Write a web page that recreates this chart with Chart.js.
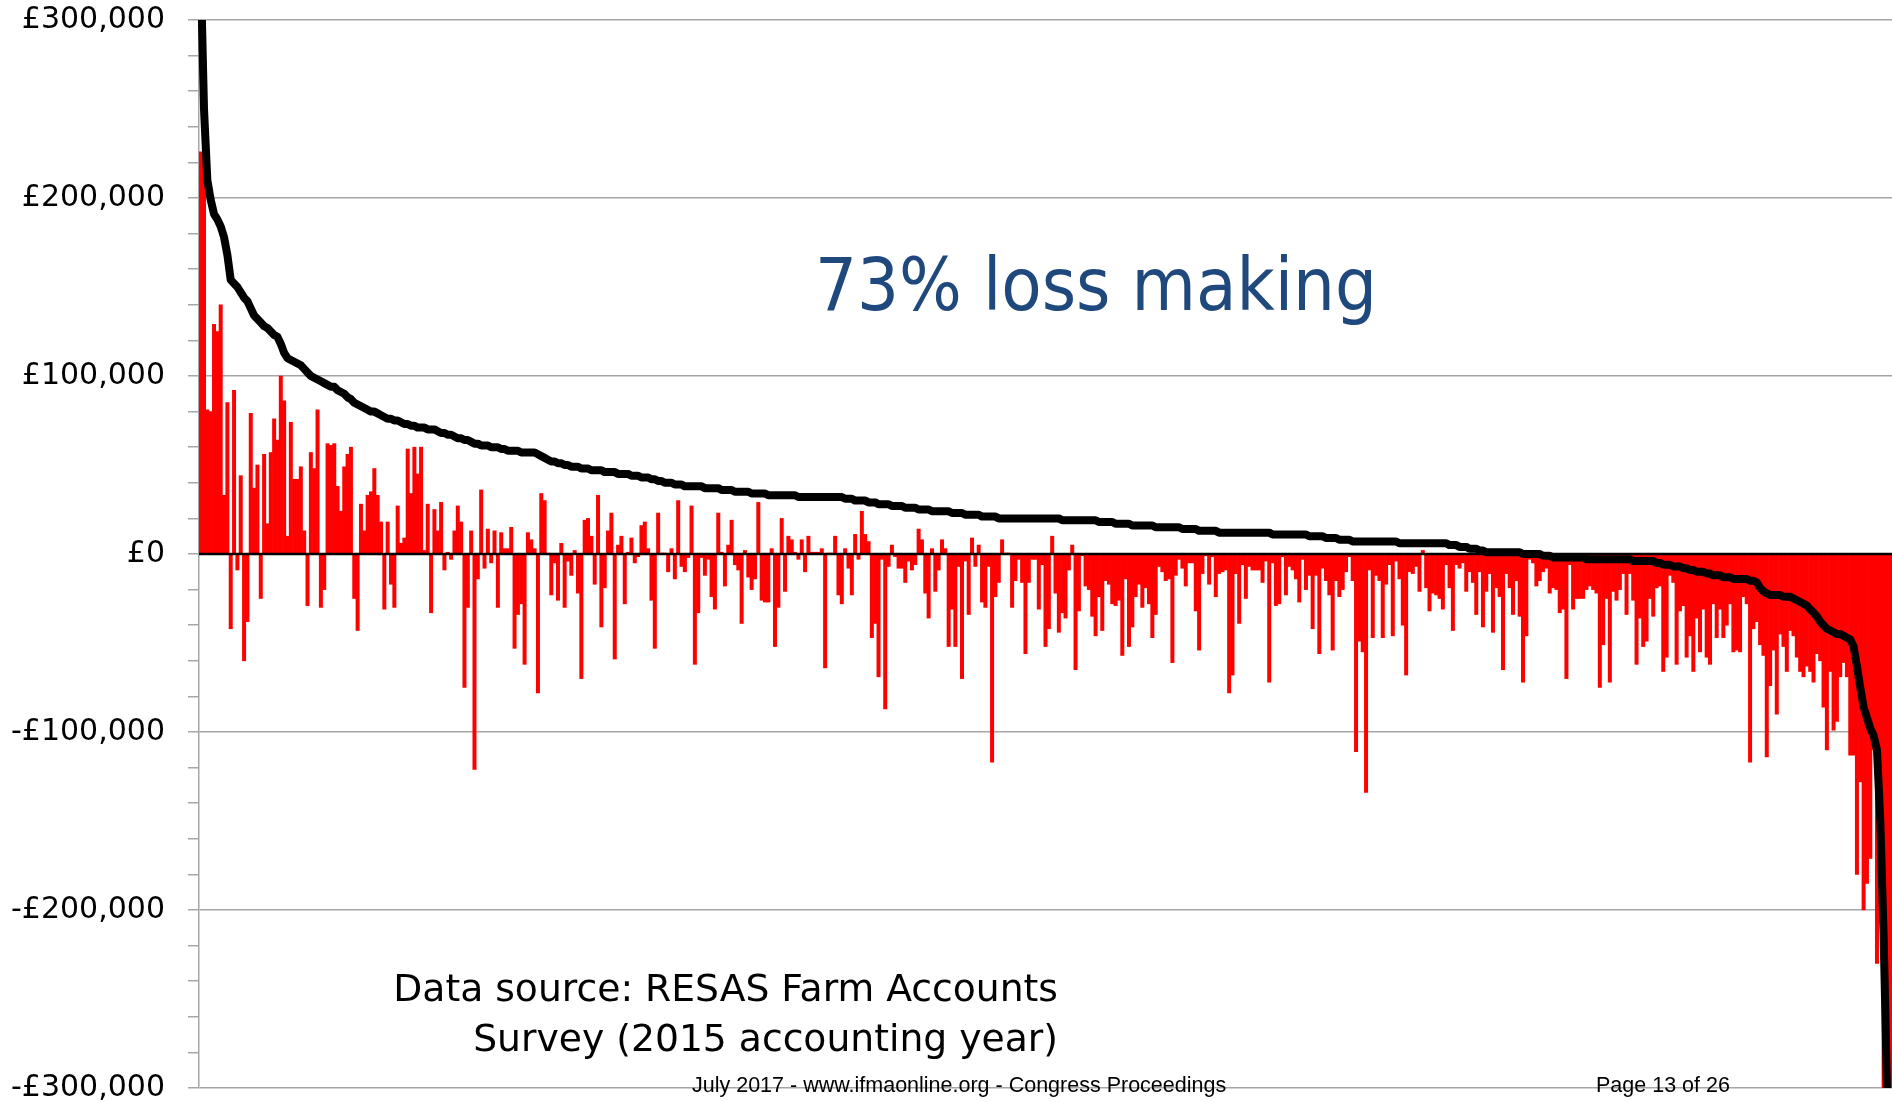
<!DOCTYPE html>
<html>
<head>
<meta charset="utf-8">
<title>73% loss making</title>
<script src="https://cdn.jsdelivr.net/npm/chart.js@4.4.1/dist/chart.umd.min.js"></script>
<style>
  html, body { margin: 0; padding: 0; background: #fff; }
  #wrap { position: relative; width: 1892px; height: 1102px; }
</style>
</head>
<body>
<div id="wrap"><canvas id="chart"></canvas></div>
<script>
// All values in £ thousands, one entry per farm.
// Farms are ordered by the black line, highest first.

// red bars
const barValues = [
  // farms 1-85
  226,224,81,80,129,125,140,33,85,-42,
  92,-9,44,-60,-38,79,37,50,-25,56,
  17,57,76,64,100,86,10,74,42,42,
  49,13,-29,57,48,81,-30,-20,62,61,
  62,38,24,49,56,60,-25,-43,28,13,
  33,35,48,33,18,-31,18,-17,-30,27,
  6,9,59,34,60,45,60,2,28,-33,
  25,13,29,-9,1,-3,13,27,18,-75,
  -30,13,-121,-14,36,
  // farms 86-168
  -8,14,-5,13,-30,12,3,3,15,-53,
  -34,-28,-62,12,8,3,-78,34,30,0.5,
  -23,-5,-26,6,-30,-4,-12,2,-22,-70,
  19,20,10,-17,33,-41,-19,13,23,-59,
  5,10,-28,1,9,-5,-1.5,16,18,3,
  -26,-53,23,0.5,0.5,-10,3,-14,30,-7,
  -10,-2,27,-62,-33,-2,-12,-3,-24,-31,
  23,1,-18,5,19,-6,-9,-39,2,-13,
  -20,-14,29,
  // farms 169-254
  -26,-27,-27,3,-52,-30,20,-21,10,8,
  1,-3,8,-10,10,1,1,1,3,-64,
  0.5,0.5,10,-23,-28,3,-8,-23,11,-3,
  24,11,7,-47,-39,-69,-3,-87,-7,5,
  -1.5,-8,-8,-16,-4,-9,-6,14,8,-22,
  -36,3,-21,-9,8,3,-52,-31,-52,-7,
  -70,-4,-34,9,-7,5,-27,-30,-7,-117,
  -24,-16,8,0.5,0.5,-30,-15,-3,-16,-56,
  -16,-3,-3,-31,-6,-52,
  // farms 255-338
  -42,10,-22,-44,-33,-36,-9,5,-65,-32,
  -1,-18,-20,-35,-46,-24,-43,-15,-17,-28,
  -29,-26,-57,-14,-52,-41,-24,-17,-30,-19,
  -28,-47,-34,-7,-10,-15,-14,-61,-12,-3,
  -8,-18,-5,-5,-32,-54,-11,-1,-17,-1.5,
  -24,-11,-10,-9,-78,-68,-11,-39,-6,-25,
  -7,-9,-9,-9,-16,-4,-72,-5,-29,-28,
  -1.5,-23,-7,-9,-14,-27,-3,-20,-12,-42,
  -12,-56,-8,-15,
  // farms 339-423
  -23,-54,-15,-24,-20,-10,-1.5,-15,-111,-49,
  -55,-134,-9,-47,-12,-15,-47,-17,-6,-46,
  -4,-14,-40,-68,-10,-11,-7,-21,2,-19,
  -32,-22,-23,-25,-31,-6,-19,-43,-6,-8,
  -5,-21,-10,-16,-34,-10,-41,-21,-11,-44,
  -19,-24,-65,-11,-19,-34,-15,-35,-72,-46,
  -3,-5,-18,-15,-10,-8,-22,-19,-20,-33,
  -31,-70,-6,-31,-25,-25,-25,-20,-18,-20,
  -22,-75,-51,-25,-72,
  // farms 424-507
  -21,-26,-20,-11,-34,-11,-26,-62,-36,-52,
  -49,-25,-35,-19,-18,-66,-58,-12,-16,-62,
  -32,-29,-58,-46,-66,-36,-55,-31,-58,-62,
  -28,-47,-31,-47,-40,-28,-55,-54,-55,-24,
  -28,-117,-42,-38,-51,-57,-114,-74,-54,-90,
  -45,-52,-66,-43,-46,-58,-66,-69,-63,-66,
  -72,-56,-60,-86,-110,-66,-99,-94,-69,-61,
  -69,-113,-113,-180,-128,-200,-185,-171,-110,-230,
  -155,-320,-320,-320
];

// black ranked line
const lineValues = [
  330,250,210,199,191,188,184,178,168,154,152,150,147,144,142,138,134,132,130,128,
  127,125,123,122,118,113,110,109,108,107,106,104,102,100,99,98,97,96,95,94,
  94,92,91,90,88,87,85,84,83,82,81,80,80,79,78,77,76,76,75,75,
  74,73,73,72,72,71,71,71,70,70,70,69,68,68,67,67,66,65,65,64,
  64,63,62,62,61,61,61,60,60,60,59,59,58,58,58,58,57,57,57,57,
  57,56,55,54,53,52,52,51,51,50,50,49,49,49,48,48,48,47,47,47,
  47,46,46,46,46,45,45,45,45,44,44,44,43,43,43,42,42,41,41,40,
  40,40,39,39,39,38,38,38,38,38,38,37,37,37,37,37,36,36,36,36,
  35,35,35,35,35,34,34,34,34,34,33,33,33,33,33,33,33,33,33,32,
  32,32,32,32,32,32,32,32,32,32,32,32,32,31,31,31,30,30,30,30,
  29,29,29,28,28,28,28,27,27,27,27,26,26,26,26,25,25,25,25,24,
  24,24,24,24,24,23,23,23,23,22,22,22,22,22,21,21,21,21,21,20,
  20,20,20,20,20,20,20,20,20,20,20,20,20,20,20,20,20,20,19,19,
  19,19,19,19,19,19,19,19,19,18,18,18,18,18,17,17,17,17,17,16,
  16,16,16,16,16,16,15,15,15,15,15,15,15,15,14,14,14,14,14,13,
  13,13,13,13,13,12,12,12,12,12,12,12,12,12,12,12,12,12,12,12,
  12,11,11,11,11,11,11,11,11,11,11,11,10,10,10,10,10,9,9,9,
  9,8,8,8,8,7,7,7,7,7,7,7,7,7,7,7,7,7,7,6,
  6,6,6,6,6,6,6,6,6,6,6,6,6,6,5,5,5,4,4,4,
  3,3,3,2,2,1,1,1,1,1,1,1,1,1,1,1,0,0,0,0,
  0,0,-1,-1,-1,-2,-2,-2,-2,-2,-2,-2,-2,-2,-2,-3,-3,-3,-3,-3,
  -3,-3,-3,-3,-3,-3,-3,-3,-3,-4,-4,-4,-4,-4,-4,-4,-5,-5,-6,-6,
  -6,-7,-7,-7,-8,-8,-9,-9,-10,-10,-10,-11,-11,-12,-12,-12,-13,-13,-13,-14,
  -14,-14,-14,-14,-15,-15,-16,-19,-21,-22,-23,-23,-23,-23,-24,-24,-24,-25,-26,-27,
  -28,-29,-31,-33,-35,-38,-40,-42,-43,-44,-45,-45,-46,-47,-48,-52,-63,-75,-86,-92,
  -98,-102,-110,-150,-215,-300,-380
];

const majorTicks = [-300, -200, -100, 0, 100, 200, 300];

const headline = '73% loss making';
const sourceLines = ['Data source: RESAS Farm Accounts', 'Survey (2015 accounting year)'];
const footerLeft = 'July 2017 - www.ifmaonline.org - Congress Proceedings';
const footerRight = 'Page 13 of 26';

const labels = barValues.map((_, i) => i + 1);

function money(v) {
  const s = '£' + (Math.abs(v) * 1000).toLocaleString('en-GB');
  return v < 0 ? '-' + s : s;
}

function isMajor(v) {
  return majorTicks.includes(Math.round(v));
}

// font size that makes text come out at a given width
function fitSize(ctx, text, family, width) {
  ctx.font = '100px ' + family;
  return 100 * width / ctx.measureText(text).width;
}

// black axis line at £0, on top of the bars
const zeroLine = {
  id: 'zeroLine',
  afterDatasetsDraw(chart) {
    const { ctx, chartArea } = chart;
    const y = chart.scales.y.getPixelForValue(0);
    ctx.save();
    ctx.strokeStyle = '#000';
    ctx.lineWidth = 2.5;
    ctx.beginPath();
    ctx.moveTo(chartArea.left, y);
    ctx.lineTo(chartArea.right, y);
    ctx.stroke();
    ctx.restore();
  }
};

// headline, source note and page footer
const notes = {
  id: 'notes',
  afterDraw(chart) {
    const ctx = chart.ctx;
    ctx.save();
    ctx.textBaseline = 'alphabetic';

    const cond = '"DejaVu Sans Condensed", "DejaVu Sans"';
    let size = fitSize(ctx, headline, cond, 562);
    ctx.font = size + 'px ' + cond;
    ctx.fillStyle = '#1f497d';
    ctx.textAlign = 'left';
    ctx.fillText(headline, 815, 310);

    const fam = '"DejaVu Sans"';
    size = fitSize(ctx, sourceLines[0], fam, 665);
    ctx.font = size + 'px ' + fam;
    ctx.fillStyle = '#000';
    ctx.textAlign = 'right';
    ctx.fillText(sourceLines[0], 1058, 1001);
    ctx.fillText(sourceLines[1], 1058, 1051);

    const ff = '"Liberation Sans", Arial, sans-serif';
    ctx.font = '21.5px ' + ff;
    ctx.textAlign = 'left';
    ctx.fillText(footerLeft, 692, 1092);
    ctx.fillText(footerRight, 1596, 1092);
    ctx.restore();
  }
};

new Chart(document.getElementById('chart'), {
  type: 'bar',
  data: {
    labels,
    datasets: [
      {
        type: 'line',
        data: lineValues,
        borderColor: '#000',
        borderWidth: 8,
        pointRadius: 0,
        tension: 0,
        borderJoinStyle: 'round',
        borderCapStyle: 'round',
        order: 1
      },
      {
        type: 'bar',
        data: barValues,
        backgroundColor: '#ff0000',
        borderWidth: 0,
        barPercentage: 1,
        categoryPercentage: 1,
        order: 2
      }
    ]
  },
  options: {
    responsive: true,
    maintainAspectRatio: false,
    animation: false,
    devicePixelRatio: 1,
    layout: { padding: { top: 20, bottom: 14, left: 0, right: 0 } },
    plugins: {
      legend: { display: false },
      tooltip: { enabled: false }
    },
    scales: {
      x: { display: false, offset: true },
      y: {
        min: -300,
        max: 300,
        afterFit(scale) {
          scale.width = 199;
          scale.paddingTop = 0;
          scale.paddingBottom = 0;
        },
        border: { color: '#a6a6a6', width: 1.5 },
        grid: {
          color: (c) => (c.tick && isMajor(c.tick.value)) ? '#a6a6a6' : 'rgba(0,0,0,0)',
          lineWidth: 1.5,
          tickLength: 11,
          tickColor: '#a6a6a6',
          tickWidth: 1.5
        },
        ticks: {
          stepSize: 20,
          autoSkip: false,
          padding: 23,
          color: '#000',
          font: { family: '"DejaVu Sans"', size: 30, lineHeight: 1 },
          callback: (v) => isMajor(v) ? money(v) : ''
        }
      }
    }
  },
  plugins: [zeroLine, notes]
});
</script>
</body>
</html>
